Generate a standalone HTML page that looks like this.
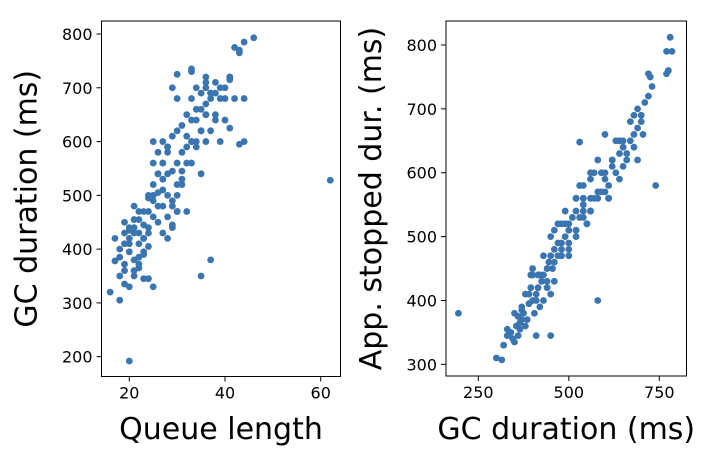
<!DOCTYPE html>
<html><head><meta charset="utf-8"><style>
body{margin:0;background:#fff;font-family:"Liberation Sans","DejaVu Sans",sans-serif}
svg text{font-family:"DejaVu Sans","Liberation Sans",sans-serif}
</style></head><body>
<svg id="c" width="706" height="456" xmlns="http://www.w3.org/2000/svg"></svg>
<script>
const leftQueue=[20,62,18,16,46,44,42,43,43,33,33,30,41,41,36,44,44,43,41,20,20,
17,18,19,19,20,21,21,22,22,23,23,17,18,19,20,21,22,23,24,18,19,20,21,22,23,24,19,20,21,22,23,24,21,22,23,24,25,25,
24,25,26,27,28,29,24,25,26,27,28,29,30,25,26,27,28,29,30,26,27,28,29,30,31,27,28,29,30,31,25,26,27,28,32,29,30,31,32,33,
30,31,32,33,34,35,36,31,32,33,34,35,36,37,32,33,34,35,36,37,38,39,33,34,35,36,37,38,39,40,35,36,37,38,39,40,41,36,38,40,42,34,30,29,28,27,26,22,21,19,23,24,25,35,37];
const leftGC=[192,528,305,320,793,785,775,770,765,730,735,725,720,715,710,680,600,595,625,440,435,
378,385,372,360,395,380,350,410,365,390,345,420,400,430,410,440,385,420,440,350,335,330,360,372,395,405,410,420,455,470,445,430,480,455,470,495,460,500,
470,490,450,430,420,440,500,520,540,480,460,445,470,560,540,510,500,480,520,580,600,540,490,470,520,560,580,610,500,530,600,505,530,590,470,545,560,545,560,600,
620,580,610,560,590,540,600,630,590,640,600,620,650,620,650,600,660,690,650,680,640,600,680,700,620,670,690,710,680,700,660,720,690,650,700,680,720,700,690,640,680,640,680,700,590,560,480,430,430,450,420,345,330,350,380,360,480,660,650];
const rightGC=[195,740,530,580,450,410,300,315,780,770,785,770,775,720,725,730,
320,330,340,350,355,360,365,370,375,380,330,345,360,370,385,390,400,405,410,415,420,380,395,410,425,430,440,450,400,415,430,445,455,460,470,420,440,450,460,470,480,490,500,
450,460,480,490,500,510,520,470,490,500,520,530,540,480,500,520,540,550,560,520,530,540,550,560,570,580,500,520,540,560,580,590,600,540,560,580,600,610,620,
570,590,610,620,630,640,650,600,620,640,650,660,670,680,690,640,660,670,680,690,700,700,710,720,680,650,630,600,560,540,520,480,460,440,430,400,390,370,350,365,395,610,690,705];
const rightApp=[380,580,648,400,345,345,310,307,812,790,790,755,760,755,750,735,
330,345,350,335,360,345,365,370,380,360,355,340,375,385,370,395,400,380,410,420,390,410,420,400,430,440,420,410,450,440,470,460,450,430,470,440,450,470,480,490,470,500,480,
500,510,480,520,490,530,510,520,540,520,500,530,550,490,470,560,540,520,560,540,580,560,520,540,600,570,510,510,560,590,560,600,570,530,600,620,590,560,620,
560,570,580,610,600,590,610,600,620,630,640,620,650,660,670,650,630,680,640,700,680,690,710,720,690,650,650,660,540,580,560,520,460,430,400,440,410,390,380,355,440,560,620,660];
const leftXTicks=[20,40,60], leftYTicks=[200,300,400,500,600,700,800];
const rightXTicks=[250,500,750], rightYTicks=[300,400,500,600,700,800];
const svg=document.getElementById('c');const NS='http://www.w3.org/2000/svg';
function mk(t,a,p){const e=document.createElementNS(NS,t);for(const k in a)e.setAttribute(k,a[k]);(p||svg).appendChild(e);return e;}
function panel(id,box,xs,ys,xd,yd,xt,yt,xl,yl){
 const g=mk('g',{});
 
 
 for(let i=0;i<xd.length;i++){const c=mk('circle',{cx:xs(xd[i]),cy:ys(yd[i]),r:3.4,fill:'#3a75b0'},g);
  
  }
 const r=mk('rect',{x:box[0],y:box[1],width:box[2]-box[0],height:box[3]-box[1],fill:'none',stroke:'#000','stroke-width':1},g);
 
 
 xt.forEach(v=>{const x=xs(v);mk('line',{x1:x,x2:x,y1:box[3],y2:box[3]+5,stroke:'#000'},g);
  const t=mk('text',{x:x,y:box[3]+22,'text-anchor':'middle','font-size':16},g);t.textContent=v;
  
  });
 yt.forEach(v=>{const y=ys(v);mk('line',{x1:box[0]-5,x2:box[0],y1:y,y2:y,stroke:'#000'},g);
  const t=mk('text',{x:box[0]-9,y:y+6,'text-anchor':'end','font-size':16},g);t.textContent=v;
  
  });
 const a=mk('text',{x:(box[0]+box[2])/2,y:439,'text-anchor':'middle','font-size':30},g);a.textContent=xl;
 
 
 const b=mk('text',{x:0,y:0,'text-anchor':'middle','font-size':30,transform:`translate(${box[0]-65},${(box[1]+box[3])/2}) rotate(-90)`},g);b.textContent=yl;
 
 
}
panel('left',[101.5,21,340.5,376.5],v=>129.3+(v-20)*4.785,v=>34+(800-v)*0.5378,leftQueue,leftGC,leftXTicks,leftYTicks,'Queue length','GC duration (ms)');
panel('right',[446,21,686.5,376],v=>478.3+(v-250)*0.362,v=>45+(800-v)*0.6387,rightGC,rightApp,rightXTicks,rightYTicks,'GC duration (ms)','App. stopped dur. (ms)');
</script>
</body></html>
